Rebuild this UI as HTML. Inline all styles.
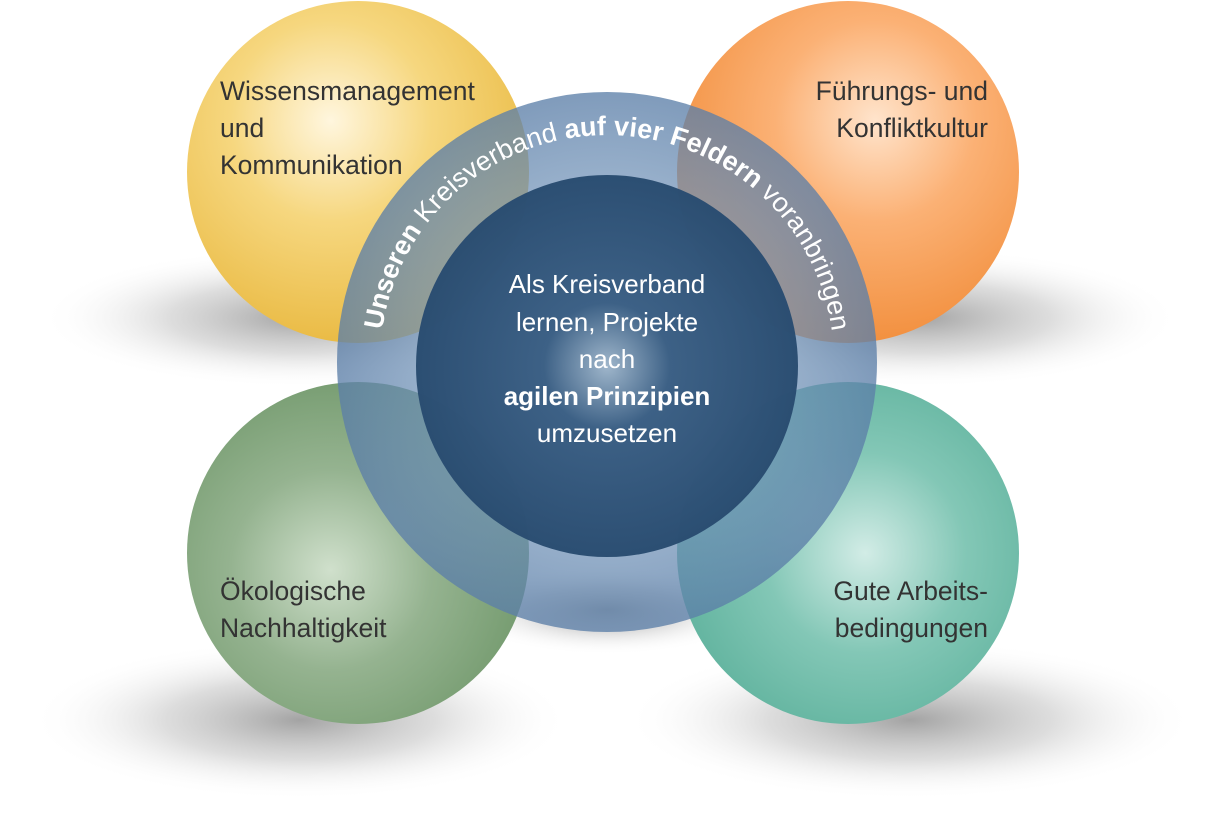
<!DOCTYPE html>
<html><head><meta charset="utf-8"><style>
html,body{margin:0;padding:0;background:#fff;width:1226px;height:825px;overflow:hidden}
svg{display:block;font-family:"Liberation Sans",sans-serif}
</style></head><body>
<svg width="1226" height="825" viewBox="0 0 1226 825">
<defs>
<radialGradient id="sh"><stop offset="0" stop-color="#999" stop-opacity=".9"/><stop offset=".5" stop-color="#bbb" stop-opacity=".5"/><stop offset="1" stop-color="#fff" stop-opacity="0"/></radialGradient>
<radialGradient id="gy" cx=".42" cy=".35" r=".65"><stop offset="0" stop-color="#fff6de"/><stop offset=".45" stop-color="#f6d77f"/><stop offset="1" stop-color="#eabb45"/></radialGradient>
<radialGradient id="go" cx=".58" cy=".35" r=".65"><stop offset="0" stop-color="#ffe4cc"/><stop offset=".45" stop-color="#fbb175"/><stop offset="1" stop-color="#f2903f"/></radialGradient>
<radialGradient id="gg" cx=".42" cy=".55" r=".65"><stop offset="0" stop-color="#d0e0cc"/><stop offset=".45" stop-color="#95b390"/><stop offset="1" stop-color="#6e9668"/></radialGradient>
<radialGradient id="gt" cx=".55" cy=".5" r=".65"><stop offset="0" stop-color="#d2ece6"/><stop offset=".45" stop-color="#83c7b6"/><stop offset="1" stop-color="#58ae98"/></radialGradient>
<radialGradient id="gr" cx=".5" cy=".5" r=".5"><stop offset=".7" stop-color="#6d8fb5" stop-opacity=".72"/><stop offset="1" stop-color="#5c7fa8" stop-opacity=".78"/></radialGradient>
<radialGradient id="gi" cx=".5" cy=".5" r=".55"><stop offset="0" stop-color="#9fb6cb"/><stop offset=".3" stop-color="#3d6186"/><stop offset="1" stop-color="#26496d" stop-opacity=".97"/></radialGradient>
<path id="arc" d="M 380,362 A 227 227 0 0 1 834,362"/>
</defs>
<ellipse cx="300" cy="318" rx="260" ry="70" fill="url(#sh)"/>
<ellipse cx="920" cy="318" rx="260" ry="70" fill="url(#sh)"/>
<ellipse cx="300" cy="720" rx="270" ry="80" fill="url(#sh)"/>
<ellipse cx="910" cy="720" rx="285" ry="80" fill="url(#sh)"/>
<ellipse cx="607" cy="610" rx="150" ry="45" fill="url(#sh)"/>
<circle cx="358" cy="172" r="171" fill="url(#gy)"/>
<circle cx="848" cy="172" r="171" fill="url(#go)"/>
<circle cx="358" cy="553" r="171" fill="url(#gg)"/>
<circle cx="848" cy="553" r="171" fill="url(#gt)"/>
<circle cx="607" cy="362" r="270" fill="url(#gr)"/>
<circle cx="607" cy="366" r="191" fill="url(#gi)"/>
<text font-size="27" fill="#fff"><textPath href="#arc" startOffset="32" textLength="650" lengthAdjust="spacing"><tspan font-weight="bold">Unseren</tspan> Kreisverband <tspan font-weight="bold">auf vier Feldern</tspan> voranbringen</textPath></text>
<g font-size="26.5" fill="#333">
<text x="220" y="100">Wissensmanagement</text>
<text x="220" y="137">und</text>
<text x="220" y="174">Kommunikation</text>
<text x="988" y="100" text-anchor="end">Führungs- und</text>
<text x="988" y="137" text-anchor="end">Konfliktkultur</text>
<text x="220" y="600">Ökologische</text>
<text x="220" y="637">Nachhaltigkeit</text>
<text x="988" y="600" text-anchor="end">Gute Arbeits-</text>
<text x="988" y="637" text-anchor="end">bedingungen</text>
</g>
<g font-size="26" fill="#fff" text-anchor="middle">
<text x="607" y="293">Als Kreisverband</text>
<text x="607" y="331">lernen, Projekte</text>
<text x="607" y="368">nach</text>
<text x="607" y="405" font-weight="bold">agilen Prinzipien</text>
<text x="607" y="442">umzusetzen</text>
</g>
</svg>
</body></html>
